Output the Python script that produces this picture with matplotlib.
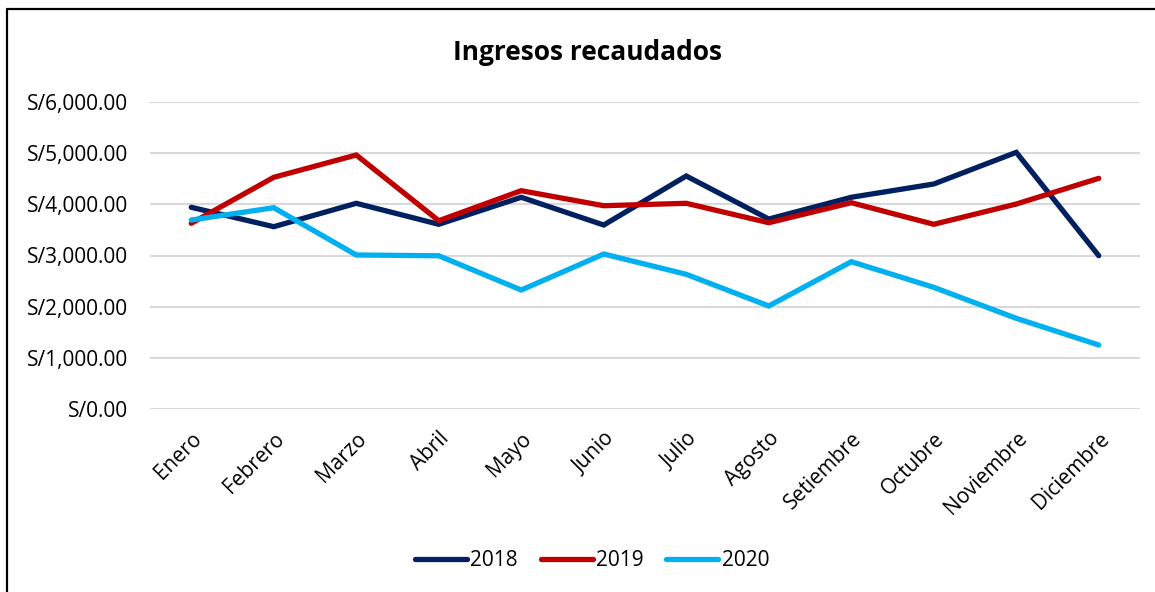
import matplotlib
matplotlib.use('Agg')
import matplotlib.pyplot as plt
from matplotlib.lines import Line2D
from matplotlib.ticker import FuncFormatter
import numpy as np

plt.rcParams['font.family'] = ['Open Sans', 'DejaVu Sans']

meses = ['Enero', 'Febrero', 'Marzo', 'Abril', 'Mayo', 'Junio', 'Julio',
         'Agosto', 'Setiembre', 'Octubre', 'Noviembre', 'Diciembre']
ingresos_2018 = [3944, 3564, 4022, 3611, 4140, 3597, 4557, 3714, 4140, 4400, 5020, 2996]
ingresos_2019 = [3630, 4531, 4968, 3681, 4269, 3975, 4022, 3642, 4034, 3611, 4008, 4511]
ingresos_2020 = [3695, 3936, 3010, 2995, 2324, 3029, 2632, 2011, 2879, 2377, 1770, 1247]
series = [('2018', ingresos_2018, '#002060'),
          ('2019', ingresos_2019, '#C00000'),
          ('2020', ingresos_2020, '#00B0F0')]

fig = plt.figure(figsize=(11.55, 5.92), dpi=100)
# borde del gráfico (solo izquierda y arriba visibles)
fig.lines.append(Line2D([7/1155, 7/1155, 1.0], [0.0, 1 - 9/592, 1 - 9/592],
                        transform=fig.transFigure, color='black', linewidth=1.6))

ax = fig.add_axes([150/1155, 1 - 408.7/592, 990/1155, 306.4/592])
x = np.arange(len(meses))
for name, vals, color in series:
    ax.plot(x, vals, color=color, linewidth=3.8, label=name,
            solid_capstyle='round', solid_joinstyle='miter')

ax.set_xlim(-0.5, len(meses) - 0.5)
ax.set_ylim(0, 6000)
ax.set_yticks(np.arange(0, 6001, 1000))
ax.yaxis.set_major_formatter(FuncFormatter(lambda v, p: f'S/{v:,.2f}'))
ax.grid(axis='y', color='#D9D9D9', linewidth=1.5)
ax.set_axisbelow(True)
for s in ax.spines.values():
    s.set_visible(False)
ax.tick_params(axis='both', length=0, labelsize=15, colors='black')
ax.tick_params(axis='y', pad=16)
ax.set_xticks(x)
ax.set_xticklabels(meses, rotation=45, ha='right', rotation_mode='anchor')
ax.tick_params(axis='x', pad=14)

fig.text(588/1155, 1 - 53/592, 'Ingresos recaudados', ha='center', va='center',
         fontsize=19, fontweight='bold')

fig.legend(loc='center', bbox_to_anchor=(592/1155, 1 - 561/592), ncol=3,
           frameon=False, fontsize=15, handlelength=2.5, columnspacing=1.1,
           handletextpad=0.15)

plt.savefig('out.png', dpi=100)
plt.close()
